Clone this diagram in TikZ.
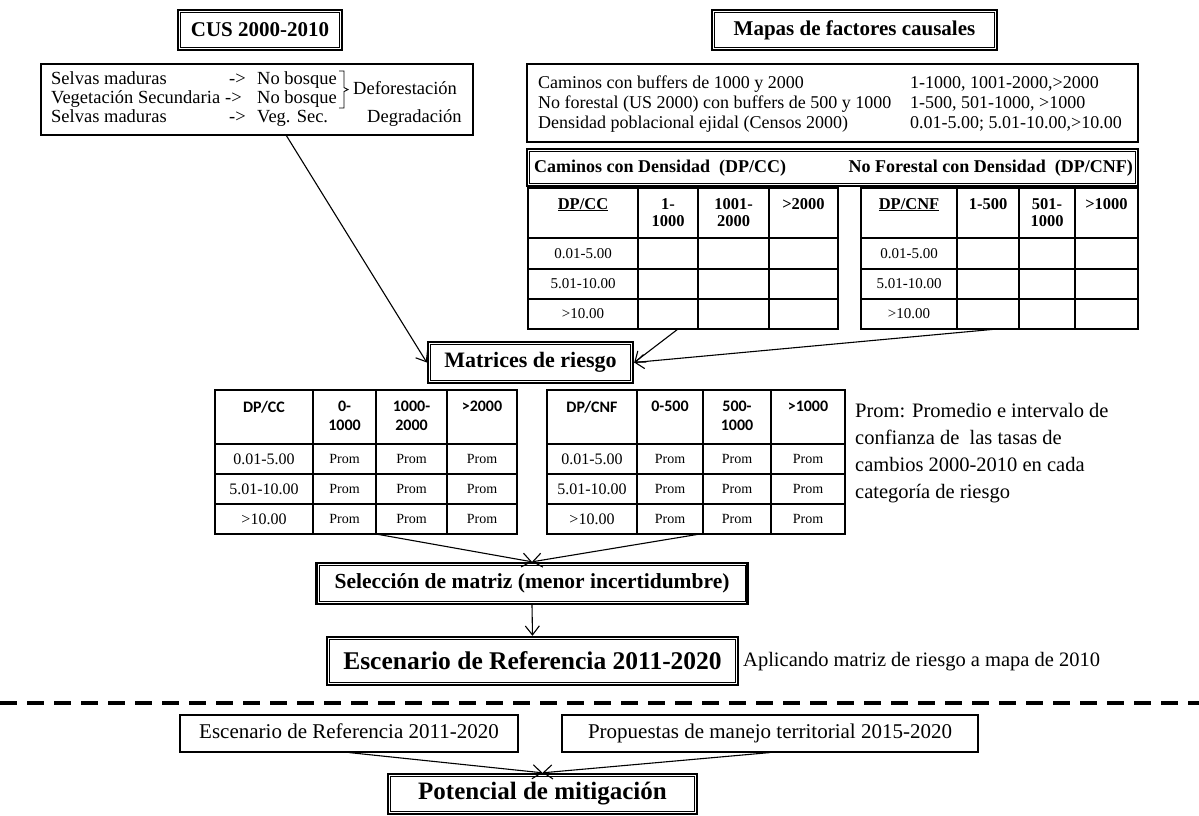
\documentclass[tikz,border=0pt]{standalone}
\usepackage{fontspec}
\setmainfont{Liberation Serif}
\newfontfamily\calib{Carlito}
\usetikzlibrary{arrows.meta}
\newcommand{\fs}[2]{\fontsize{#1}{#2}\selectfont}
\begin{document}
\begin{tikzpicture}[x=1pt,y=-1pt,
  box/.style={draw, line width=1.1pt, inner sep=0pt},
  dbox/.style={draw, line width=2.4pt, inner sep=0pt},
  innerline/.style={line width=0.8pt},
  tline/.style={line width=1.1pt},
  lbl/.style={inner sep=0pt},
  wl/.style={inner sep=0pt, anchor=west},
  arr/.style={line width=1.1pt, -{Straight Barb[length=9pt,width=14pt]}},
  divline/.style={line width=3.5pt, dash pattern=on 17pt off 10pt},
  body/.style={font=\fs{18.5}{21}, text height=12pt, text depth=3.5pt},
  cbody/.style={font=\fs{18}{21}, text height=12pt, text depth=3.5pt},
  th/.style={inner sep=0pt, anchor=north, align=center, font=\fs{16.5}{17.5}\bfseries},
  td/.style={inner sep=0pt, font=\fs{15}{17}},
  lth/.style={inner sep=0pt, anchor=north, align=center, font=\fs{16}{19}\calib\bfseries},
  ltd/.style={inner sep=0pt, font=\fs{16}{18}},
  prom/.style={inner sep=0pt, font=\fs{14}{16}},
]
\useasboundingbox (0,0) rectangle (1199,815);

% ---------- titles ----------
\node[dbox, minimum width=164, minimum height=40, font=\fs{21}{25}\bfseries] (cus) at (260,30) {CUS 2000-2010};
\node[dbox, minimum width=285, minimum height=40, font=\fs{21}{25}\bfseries] (mapas) at (854.5,30) {Mapas de factores causales};

% ---------- CUS content ----------
\node[box, minimum width=432, minimum height=71] (cusbox) at (257,99.5) {};
\node[wl, body] (s1) at (51,80) {Selvas maduras};
\node[wl, body] (a1) at (229,80) {->};
\node[wl, body] (n1) at (257,80) {No bosque};
\node[wl, body] (s2) at (51,99) {Vegetación Secundaria};
\node[wl, body] (a2) at (225,99) {->};
\node[wl, body] (n2) at (257,99) {No bosque};
\node[wl, body] (s3) at (51,118) {Selvas maduras};
\node[wl, body] (a3) at (229,118) {->};
\node[wl, body] (v3) at (257,118) {Veg. Sec.};
\draw[line width=0.9pt] (339,71) -- (344,71) -- (344,87.5) -- (348,89.5) -- (344,91.5) -- (344,108) -- (339,108);
\node[wl, body] (defo) at (353,90) {Deforestación};
\node[wl, body] (degr) at (367,118) {Degradación};

% ---------- causal factors ----------
\node[box, minimum width=611, minimum height=78] (causal) at (832.5,103) {};
\node[wl, cbody] (c1) at (538,84) {Caminos con buffers de 1000 y 2000};
\node[wl, cbody] (c2) at (538,104) {No forestal (US 2000) con buffers de 500 y 1000};
\node[wl, cbody] (c3) at (538,124) {Densidad poblacional ejidal (Censos 2000)};
\node[wl, cbody] (r1) at (910,84) {1-1000, 1001-2000,>2000};
\node[wl, cbody] (r2) at (910,104) {1-500, 501-1000, >1000};
\node[wl, cbody] (r3) at (910,124) {0.01-5.00; 5.01-10.00,>10.00};

\node[dbox, minimum width=611, minimum height=37] (hdr) at (832.5,167.5) {};
\node[wl, font=\fs{18}{21}\bfseries] (hl) at (534,168) {Caminos con Densidad\ \ (DP/CC)};
\node[lbl, anchor=east, font=\fs{18}{21}\bfseries] (hr) at (1133,168) {No Forestal con Densidad\ \ (DP/CNF)};

% ---------- upper table DP/CC ----------
\draw[tline] (528,188) rectangle (838,329);
\foreach \xx in {638,698,769} \draw[tline] (\xx,188) -- (\xx,329);
\foreach \yy in {238,269,299} \draw[tline] (528,\yy) -- (838,\yy);
\node[th] (ua0) at (583,198) {\underline{DP/CC}};
\node[th] (ua1) at (668,198) {1-\\1000};
\node[th] (ua2) at (733.5,198) {1001-\\2000};
\node[th] (ua3) at (803.5,198) {>2000};
\node[td] (ua4) at (583,253.5) {0.01-5.00};
\node[td] (ua5) at (583,284) {5.01-10.00};
\node[td] (ua6) at (583,314) {>10.00};

% ---------- upper table DP/CNF ----------
\draw[tline] (861,188) rectangle (1138,329);
\foreach \xx in {957,1019,1075} \draw[tline] (\xx,188) -- (\xx,329);
\foreach \yy in {238,269,299} \draw[tline] (861,\yy) -- (1138,\yy);
\node[th] (ub0) at (909,198) {\underline{DP/CNF}};
\node[th] (ub1) at (988,198) {1-500};
\node[th] (ub2) at (1047,198) {501-\\1000};
\node[th] (ub3) at (1106.5,198) {>1000};
\node[td] (ub4) at (909,253.5) {0.01-5.00};
\node[td] (ub5) at (909,284) {5.01-10.00};
\node[td] (ub6) at (909,314) {>10.00};

\coordinate (t1out) at (678,329);
\coordinate (t2out) at (997,329);
\coordinate (cusout) at (286,135);

% ---------- Matrices ----------
\node[dbox, minimum width=205, minimum height=41, font=\fs{22}{26}\bfseries] (matr) at (530.5,362.5) {Matrices de riesgo};

% ---------- lower table 1 ----------
\draw[tline] (215,390) rectangle (517,534);
\foreach \xx in {313,376,447} \draw[tline] (\xx,390) -- (\xx,534);
\foreach \yy in {444,474,504} \draw[tline] (215,\yy) -- (517,\yy);
\node[lth] (la0) at (264,401) {DP/CC};
\node[lth] (la1) at (344.5,401) {0-\\1000};
\node[lth] (la2) at (411.5,401) {1000-\\2000};
\node[lth] (la3) at (482,401) {>2000};
\node[ltd] (la4) at (264,459) {0.01-5.00};
\node[ltd] (la5) at (264,489) {5.01-10.00};
\node[ltd] (la6) at (264,519) {>10.00};
\foreach \r/\yy in {1/459,2/489,3/519}{
  \node[prom] (lap\r a) at (344.5,\yy) {Prom};
  \node[prom] (lap\r b) at (411.5,\yy) {Prom};
  \node[prom] (lap\r c) at (482,\yy) {Prom};
}

% ---------- lower table 2 ----------
\draw[tline] (547,390) rectangle (845,534);
\foreach \xx in {637,703,771} \draw[tline] (\xx,390) -- (\xx,534);
\foreach \yy in {444,474,504} \draw[tline] (547,\yy) -- (845,\yy);
\node[lth] (lb0) at (592,401) {DP/CNF};
\node[lth] (lb1) at (670,401) {0-500};
\node[lth] (lb2) at (737,401) {500-\\1000};
\node[lth] (lb3) at (808,401) {>1000};
\node[ltd] (lb4) at (592,459) {0.01-5.00};
\node[ltd] (lb5) at (592,489) {5.01-10.00};
\node[ltd] (lb6) at (592,519) {>10.00};
\foreach \r/\yy in {1/459,2/489,3/519}{
  \node[prom] (lbp\r a) at (670,\yy) {Prom};
  \node[prom] (lbp\r b) at (737,\yy) {Prom};
  \node[prom] (lbp\r c) at (808,\yy) {Prom};
}

\node[wl, font=\fs{20.5}{27}, align=left, anchor=north west] (note) at (855,403) {Prom: Promedio e intervalo de\\confianza de\ \ las tasas de\\cambios 2000-2010 en cada\\categoría de riesgo};

\coordinate (l1out) at (376,534);
\coordinate (l2out) at (700,534);

% ---------- selection & scenario ----------
\node[dbox, minimum width=431, minimum height=41, font=\fs{21.5}{25}\bfseries] (sel) at (532,583.5) {Selección de matriz (menor incertidumbre)};
\node[dbox, minimum width=411, minimum height=48, font=\fs{25.5}{30}\bfseries] (esc) at (532.5,661) {Escenario de Referencia 2011-2020};
\node[wl, font=\fs{20.5}{24}] (apl) at (743,662) {Aplicando matriz de riesgo a mapa de 2010};

\draw[divline] (0,703) -- (1199,703);

% ---------- bottom ----------
\node[box, minimum width=338, minimum height=37, font=\fs{21}{25}, text height=14pt, text depth=4.5pt] (escb) at (349,733.5) {Escenario de Referencia 2011-2020};
\node[box, minimum width=416, minimum height=37, font=\fs{21}{25}, text height=14pt, text depth=4.5pt] (prop) at (770,733.5) {Propuestas de manejo territorial 2015-2020};
\node[dbox, minimum width=309, minimum height=40, font=\fs{25}{30}\bfseries] (pot) at (542.5,794) {Potencial de mitigación};

\foreach \n in {cus,mapas,hdr,matr,sel,esc,pot}
  \draw[innerline] ([shift={(3.6pt,-3.6pt)}]\n.north west) rectangle ([shift={(-3.6pt,3.6pt)}]\n.south east);

% ---------- connectors ----------
\draw[arr] (cusout) -- (matr.west);
\draw[arr] (t1out) -- (matr.east);
\draw[arr] (t2out) -- (matr.east);
\draw[arr] (l1out) -- (sel.north);
\draw[arr] (l2out) -- (sel.north);
\draw[arr] (sel.south) -- (esc.north);
\draw[arr] (escb.south) -- (pot.north);
\draw[arr] (prop.south) -- (pot.north);
\end{tikzpicture}
\end{document}
